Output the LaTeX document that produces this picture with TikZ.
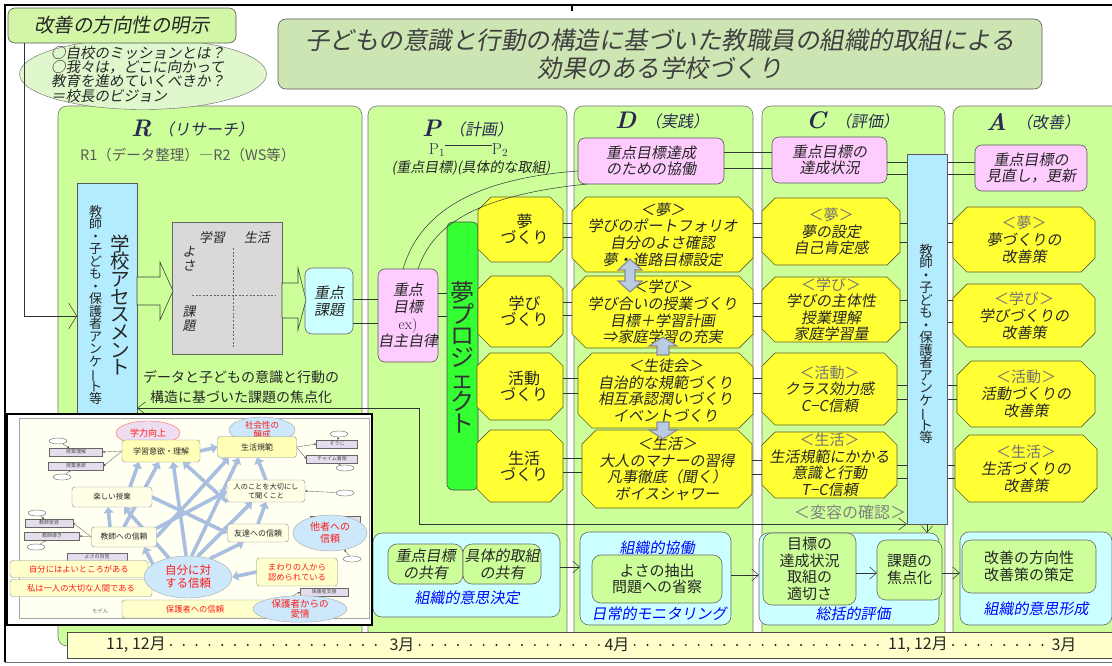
\documentclass[tikz,border=0pt]{standalone}
\usepackage{fontspec}
\usepackage{graphicx}
\usetikzlibrary{arrows.meta,shapes.geometric,calc}
\newfontfamily\jp{Noto Sans CJK JP}
\newfontfamily\jpi{Noto Sans CJK JP}[FakeSlant=0.18]
\newcommand\fsz[2]{\fontsize{#1}{#2}\selectfont\lineskiplimit=-40pt\relax}
\newcommand\vlong{\rotatebox[origin=c]{90}{ー}}
\definecolor{panelg}{HTML}{CCFF99}
\definecolor{pinkc}{HTML}{FFCCFF}
\definecolor{yelc}{HTML}{FFFF33}
\definecolor{olivec}{HTML}{5E5E2A}
\definecolor{cyanc}{HTML}{B3ECFF}
\definecolor{cyanl}{HTML}{CCFFFF}
\definecolor{greenc}{HTML}{33FF33}
\definecolor{gridc}{HTML}{D9D9D9}
\definecolor{titlec}{HTML}{CDE5B3}
\definecolor{kzc}{HTML}{D3F5A6}
\definecolor{visc}{HTML}{E0F6CC}
\definecolor{txt}{HTML}{262626}
\definecolor{hdr}{HTML}{2A2A50}
\definecolor{bluet}{HTML}{0000FF}
\definecolor{tlc}{HTML}{FFFFCC}
\definecolor{creamc}{HTML}{FFFFF2}
\definecolor{fatc}{HTML}{A9BFE0}
\definecolor{redt}{HTML}{FF1A1A}
\definecolor{lavc}{HTML}{E4DDEE}
\definecolor{ltblue}{HTML}{CCE8FA}
\definecolor{insy}{HTML}{FFFFB8}
\definecolor{insw}{HTML}{FFFFE6}
\definecolor{barc}{HTML}{B8CCE4}
\definecolor{pinkell}{HTML}{EEDDF0}
\pgfdeclarelayer{base}
\pgfdeclarelayer{ins}
\pgfsetlayers{base,ins,main}
\tikzset{
 panel/.style={fill=panelg, draw=black!55, rounded corners=9pt, line width=0.6pt},
 pinkbox/.style={fill=pinkc, draw=black!65, rounded corners=7pt, line width=0.6pt, align=center, inner sep=0pt, outer sep=0pt, font=\jpi\fsz{15}{16.5}, text=txt, anchor=north west},
 cyanbox/.style={fill=cyanc, draw=black!65, line width=0.6pt, inner sep=0pt, outer sep=0pt, anchor=north west},
 octo/.style={fill=yelc, draw=olivec, line width=0.7pt},
 octtext/.style={align=center, inner sep=0pt, outer sep=0pt, text=txt},
 link/.style={draw=black!80, line width=0.5pt},
 barb/.style={-{Straight Barb[length=7pt,width=12pt]}},
 hdrL/.style={font=\fsz{24}{24}\bfseries\itshape, text=hdr, inner sep=0pt, anchor=west},
 hdrJ/.style={font=\jpi\fsz{16}{16}, text=hdr, inner sep=0pt, anchor=west},
 vtext/.style={align=center, inner sep=0pt, text=txt},
 bbox/.style={fill=cyanl, draw=black!60, rounded corners=9pt, line width=0.6pt, inner sep=0pt, outer sep=0pt, anchor=north west},
 gbox/.style={fill=panelg, draw=black!60, rounded corners=9pt, line width=0.6pt, inner sep=0pt, outer sep=0pt, anchor=north west, align=center, text=txt, font=\jp\fsz{15}{16.5}},
 bluelbl/.style={font=\jpi\fsz{15}{15}, text=bluet, inner sep=0pt},
 blockarrow/.style={fill=panelg, draw=black!75, line width=0.6pt},
 greyarrow/.style={fill=barc, draw=black!45, line width=1.1pt, line join=miter},
 tlt/.style={font=\jp\fsz{16}{16}, text=txt, inner sep=0pt},
 tdots/.style={draw=txt, line width=2.2pt, line cap=round, dash pattern=on 0pt off 12.8pt},
 sbox/.style={draw=black!60, fill=lavc, inner sep=0pt, outer sep=0pt, minimum height=8, font=\jp\fsz{5}{5}, text=black!70},
 ecirc/.style={ellipse, draw=black!60, fill=white, inner sep=0pt, minimum width=18, minimum height=6},
 lbox/.style={draw=black!45, fill=insy, rounded corners=3pt, inner sep=1pt, outer sep=0pt, align=center, font=\jp\fsz{8}{9.5}, text=black!85},
 rbox/.style={lbox, fill=tlc, text=redt, font=\jp\fsz{8.3}{10}},
 bell/.style={ellipse, draw=black!35, fill=ltblue, inner sep=0pt, align=center, text=redt},
 fat/.style={draw=fatc, line width=3.6pt, -{Triangle[length=6pt,width=10pt]}},
 thinl/.style={draw=black!70, line width=0.3pt, -{Stealth[length=2.5pt,width=2pt]}},
}
% octagon node: name, x1, y1, x2, y2, chamfer, font, text
\newcommand\octnode[8]{%
 \filldraw[octo] (#2+#6,#3) -- (#4-#6,#3) -- (#4,#3+#6) -- (#4,#5-#6) -- (#4-#6,#5) -- (#2+#6,#5) -- (#2,#5-#6) -- (#2,#3+#6) -- cycle;
 \node[octtext, font=#7, minimum width=#4-#2, minimum height=#5-#3, anchor=north west] (#1) at (#2,#3) {#8};}
\newcommand\hlink[3]{\coordinate (hlA) at (0,#3); \draw[link] (#1.east |- hlA) -- (#2.west |- hlA);}
\begin{document}
\begin{tikzpicture}[x=1pt,y=-1pt]
\useasboundingbox (0,0) rectangle (1112,665);
\begin{pgfonlayer}{base}
\fill[white] (0,0) rectangle (1112,665);
% panels
\draw[panel] (58,106) rectangle (362,646);
\draw[panel] (368,106) rectangle (567,646);
\draw[panel] (574,106) rectangle (753,646);
\draw[panel] (762,106) rectangle (945,646);
\draw[panel] (953,106) rectangle (1124,646);
% frame
\draw[line width=1.1pt] (5,662) -- (5,5) -- (1112,5);
\draw[line width=0.8pt, black!55] (5,662) -- (1112,662);
\draw[line width=1.1pt] (572,5) -- (572,11);
% vision
\node[ellipse, draw=black!60, fill=visc, minimum width=247, minimum height=71, inner sep=0pt] (vision) at (143,74) {};
\node[anchor=north west, align=left, font=\jpi\fsz{14.5}{14.2}, text=txt, inner sep=0pt] (visiontxt) at (51,46) {○自校のミッションとは？\\○我々は，どこに向かって\\教育を進めていくべきか？\\＝校長のビジョン};
\node[fill=kzc, draw=black!65, rounded corners=7pt, line width=0.6pt, minimum width=228, minimum height=35, inner sep=0pt, font=\jpi\fsz{19.5}{20}, text=txt] (kz) at (122,25.5) {改善の方向性の明示};
% title
\node[fill=titlec, draw=black!65, rounded corners=8pt, line width=0.6pt, minimum width=764, minimum height=70, inner sep=0pt, align=center, font=\jpi\fsz{24.5}{27.5}, text=black!75] (title) at (660,54) {子どもの意識と行動の構造に基づいた教職員の組織的取組による\\効果のある学校づくり};
% ---------- R column
\node[hdrL] (Rl) at (131,128) {R};
\node[hdrJ] (Rj) at (158,129) {（リサーチ）};
\node[anchor=west, font=\jp\fsz{14.5}{14.5}, text=black!65, inner sep=0pt] (R12) at (80,155) {R1（データ整理）―R2（WS等）};
\node[cyanbox, minimum width=60, minimum height=245] (assess) at (77,183) {};
\node[vtext, font=\jp\fsz{13}{12.5}] (assessL) at (95.5,305) {教\\師\\・\\子\\ど\\も\\・\\保\\護\\者\\ア\\ン\\ケ\\\vlong\\ト\\等};
\node[vtext, font=\jp\fsz{19.5}{17.7}] (assessR) at (120,305) {学\\校\\ア\\セ\\ス\\メ\\ン\\ト};
\node[draw=black!60, fill=gridc, minimum width=110, minimum height=132, inner sep=0pt, outer sep=0pt, anchor=north west] (grid) at (172,222) {};
\node[font=\jpi\fsz{13}{13}, text=txt, inner sep=0pt] (gl1) at (212,238) {学習};
\node[font=\jpi\fsz{13}{13}, text=txt, inner sep=0pt] (gl2) at (257,238) {生活};
\node[font=\jpi\fsz{13}{14}, text=txt, inner sep=0pt, align=center] (gl3) at (189,259) {よ\\さ};
\node[font=\jpi\fsz{13}{14}, text=txt, inner sep=0pt, align=center] (gl4) at (189,319) {課\\題};
\draw[black!60, line width=0.6pt, dash pattern=on 2pt off 1.6pt] (233,248) -- (233,347);
\draw[black!60, line width=0.6pt, dash pattern=on 2pt off 1.6pt] (192,295) -- (275,295);
\filldraw[blockarrow] (137,277) -- (160,277) -- (160,262) -- (173,291) -- (160,320) -- (160,305) -- (137,305) -- cycle;
\node[fill=cyanl, draw=black!60, rounded corners=7pt, line width=0.6pt, minimum width=48, minimum height=66, inner sep=0pt, outer sep=0pt, anchor=north west, align=center, font=\jpi\fsz{15}{17}, text=txt] (jk) at (305,268) {重点\\課題};
\filldraw[blockarrow] (282,283) -- (298,283) -- (298,268) -- (306,300) -- (298,330) -- (298,318) -- (282,318) -- cycle;
\node[font=\jp\fsz{14}{19.5}, align=center, text=txt, inner sep=0pt] (focus) at (241,387) {データと子どもの意識と行動の\\構造に基づいた課題の焦点化};
\coordinate (lcorner) at (24,316);
\draw[link, -{Straight Barb[length=8pt,width=26pt]}] (kz.south -| lcorner) -- (lcorner) -- (assess.west |- lcorner);
% ---------- P column
\node[hdrL] (Pl) at (422,128) {P};
\node[hdrJ] (Pj) at (449,129) {（計画）};
\node[font=\fsz{16}{16}, text=hdr, inner sep=0pt] (p1) at (437,150) {P$_1$};
\node[font=\fsz{16}{16}, text=hdr, inner sep=0pt] (p2) at (500,150) {P$_2$};
\draw[link] ([yshift=5pt]p1.east) -- ([yshift=5pt]p2.west);
\node[font=\jpi\fsz{14}{14}, text=txt, inner sep=0pt] (pdesc) at (471,168) {(重点目標)(具体的な取組)};
\node[pinkbox, minimum width=60, minimum height=93, font=\jpi\fsz{15}{17}] (gP) at (378,269) {重点\\目標\\{\rmfamily ex)}\\自主自律};
\node[draw=black!70, fill=greenc, rounded corners=6pt, line width=0.6pt, minimum width=31, minimum height=268, inner sep=0pt, outer sep=0pt, anchor=north west] (yume) at (447,222) {};
\node[vtext, font=\jp\fsz{24}{21.8}, text=black!80] (yumet) at (462.5,357) {夢\\プ\\ロ\\ジ\\ェ\\ク\\ト};
\octnode{pY}{478}{197}{563}{262}{13}{\jp\fsz{16}{16}}{\hspace*{8pt}夢\\\hspace*{8pt}づくり}
\octnode{pM}{478}{276}{563}{347}{13}{\jp\fsz{16}{16}}{\hspace*{8pt}学び\\\hspace*{8pt}づくり}
\octnode{pK}{477}{353}{563}{420}{13}{\jp\fsz{16}{16}}{\hspace*{8pt}活動\\\hspace*{8pt}づくり}
\octnode{pS}{477}{430}{563}{502}{13}{\jp\fsz{16}{16}}{\hspace*{8pt}生活\\\hspace*{8pt}づくり}
\hlink{jk}{gP}{299}
\hlink{jk}{gP}{323}
\hlink{gP}{yume}{293}
\hlink{gP}{yume}{316}
% ---------- D column
\node[hdrL] (Dl) at (615,120) {D};
\node[hdrJ] (Dj) at (645,121) {（実践）};
\node[pinkbox, minimum width=146, minimum height=46] (gD) at (578,138) {重点目標達成\\のための協働};
\coordinate (cv1) at (0,171);
\draw[link] ([xshift=-5pt]gP.north) .. controls (416,225) and (455,180) .. (gD.west |- cv1);
\draw[link] ([xshift=10pt]gP.north) .. controls (432,228) and (470,196) .. ([xshift=9pt]gD.south west);
\octnode{dY}{572}{197}{753}{272}{14}{\jpi\fsz{15}{16.6}}{＜夢＞\\学びのポートフォリオ\\自分のよさ確認\\夢・進路目標設定}
\octnode{dM}{572}{276}{753}{348}{14}{\jpi\fsz{15}{16.6}}{＜学び＞\\学び合いの授業づくり\\目標＋学習計画\\⇒家庭学習の充実}
\octnode{dK}{578}{353}{753}{428}{14}{\jpi\fsz{15}{16.6}}{＜生徒会＞\\自治的な規範づくり\\相互承認潤いづくり\\イベントづくり}
\octnode{dS}{582}{430}{752}{508}{14}{\jpi\fsz{15}{16.6}}{＜生活＞\\大人のマナーの習得\\凡事徹底（聞く）\\ボイスシャワー}
\filldraw[greyarrow] (630,259) -- (642,270) -- (635,270) -- (635,281) -- (642,281) -- (630,292) -- (618,281) -- (625,281) -- (625,270) -- (618,270) -- cycle;
\filldraw[greyarrow] (663,337) -- (677,346) -- (669,346) -- (669,355) -- (657,355) -- (657,346) -- (649,346) -- cycle;
\filldraw[greyarrow] (663,439) -- (677,430) -- (669,430) -- (669,422) -- (657,422) -- (657,430) -- (649,430) -- cycle;
\hlink{pY}{dY}{223}
\hlink{pY}{dY}{237}
\hlink{pM}{dM}{302}
\hlink{pM}{dM}{315}
\hlink{pK}{dK}{378}
\hlink{pK}{dK}{393}
\hlink{pS}{dS}{458}
\hlink{pS}{dS}{472}
% ---------- C column
\node[hdrL] (Cl) at (806,120) {C};
\node[hdrJ] (Cj) at (835,121) {（評価）};
\node[pinkbox, minimum width=115, minimum height=46] (gC) at (772,137) {重点目標の\\達成状況};
\octnode{cY}{762}{198}{900}{265}{13}{\jpi\fsz{15}{16.5}}{{\jp\color{black!55}＜夢＞}\\夢の設定\\自己肯定感}
\octnode{cM}{762}{277}{900}{342}{13}{\jpi\fsz{15}{16.5}}{{\jp\color{black!55}＜学び＞}\\学びの主体性\\授業理解\\家庭学習量}
\octnode{cK}{762}{353}{897}{425}{13}{\jpi\fsz{15}{16.5}}{{\jp\color{black!55}＜活動＞}\\クラス効力感\\C−C信頼}
\octnode{cS}{762}{432}{897}{498}{13}{\jpi\fsz{15}{16.5}}{{\jp\color{black!55}＜生活＞}\\生活規範にかかる\\意識と行動\\T−C信頼}
\hlink{gD}{gC}{152}
\hlink{gD}{gC}{168}
\hlink{dY}{cY}{223}
\hlink{dY}{cY}{237}
\hlink{dM}{cM}{303}
\hlink{dM}{cM}{316}
\hlink{dK}{cK}{378}
\hlink{dK}{cK}{393}
\hlink{dS}{cS}{460}
\hlink{dS}{cS}{474}
% ---------- A column
\node[hdrL] (Al) at (986,122) {A};
\node[hdrJ] (Aj) at (1016,122) {（改善）};
\node[pinkbox, minimum width=112, minimum height=46] (gA) at (975,145) {重点目標の\\見直し，更新};
\octnode{aY}{953}{207}{1095}{272}{14}{\jpi\fsz{15}{17}}{{\jp\color{black!55}＜夢＞}\\夢づくりの\\改善策}
\octnode{aM}{953}{284}{1095}{347}{14}{\jpi\fsz{15}{17}}{{\jp\color{black!55}＜学び＞}\\学びづくりの\\改善策}
\octnode{aK}{957}{361}{1095}{427}{14}{\jpi\fsz{15}{17}}{{\jp\color{black!55}＜活動＞}\\活動づくりの\\改善策}
\octnode{aS}{955}{435}{1097}{502}{14}{\jpi\fsz{15}{17}}{{\jp\color{black!55}＜生活＞}\\生活づくりの\\改善策}
\hlink{gC}{gA}{162}
\hlink{gC}{gA}{174}
\hlink{cY}{aY}{223}
\hlink{cY}{aY}{242}
\hlink{cM}{aM}{300}
\hlink{cM}{aM}{322}
\hlink{cK}{aK}{385}
\hlink{cK}{aK}{399}
\hlink{cS}{aS}{465}
\hlink{cS}{aS}{478}
\node[font=\jp\fsz{16}{16}, text=black!50, inner sep=0pt] (henyo) at (850,512) {＜変容の確認＞};
\node[cyanbox, minimum width=40, minimum height=370] (cq) at (907,154) {};
\node[vtext, font=\jp\fsz{13.5}{12.5}] (cqt) at (926,344) {教\\師\\・\\子\\ど\\も\\・\\保\\護\\者\\ア\\ン\\ケ\\\vlong\\ト\\等};
% feedback line
\coordinate (fb1) at (419,408);
\coordinate (fb2) at (419,524);
\draw[link, {Straight Barb[length=8pt,width=12pt]}-{Straight Barb[length=8pt,width=12pt]}] (assess.east |- fb1) -- (fb1) -- (fb2) -- (cq.west |- fb2);
% ---------- bottom row
\node[bbox, minimum width=187, minimum height=84] (bR) at (373,533) {};
\node[gbox, font=\jpi\fsz{15}{17}, minimum width=75, minimum height=40] (b1a) at (388,544) {重点目標\\の共有};
\node[gbox, font=\jpi\fsz{15}{17}, minimum width=78, minimum height=40] (b1b) at (463,544) {具体的取組\\の共有};
\node[bluelbl] (b1l) at (467,598) {組織的意思決定};
\node[bbox, minimum width=151, minimum height=93] (bD) at (580,532) {};
\node[bluelbl] (b2t) at (657,548) {組織的協働};
\node[gbox, minimum width=130, minimum height=48] (b2a) at (592,555) {よさの抽出\\問題への省察};
\node[bluelbl] (b2l) at (659,614) {日常的モニタリング};
\node[bbox, minimum width=180, minimum height=92] (bC) at (759,533) {};
\node[gbox, minimum width=93, minimum height=72] (b3a) at (763,533) {目標の\\達成状況\\取組の\\適切さ};
\node[gbox, font=\jp\fsz{15}{17}, minimum width=65, minimum height=60] (b3b) at (877,540) {課題の\\焦点化};
\node[bluelbl] (b3l) at (853,614) {総括的評価};
\node[bbox, minimum width=152, minimum height=93] (bA) at (960,532) {};
\node[gbox, font=\jp\fsz{15}{17}, minimum width=134, minimum height=53] (b4a) at (962,540) {改善の方向性\\改善策の策定};
\node[bluelbl] (b4l) at (1036,609) {組織的意思形成};
\coordinate (by1) at (0,567);
\coordinate (by2) at (0,575);
\coordinate (by3) at (0,573);
\draw[link, barb] (bR.east |- by1) -- (bD.west |- by1);
\draw[link, barb] (bD.east |- by2) -- (bC.west |- by2);
\draw[link, barb] (b3a.east |- by3) -- (b3b.west |- by3);
\draw[link, barb] (b3b.east |- by3) -- (bA.west |- by3);
\draw[link, -{Straight Barb[length=7pt,width=11pt]}] (cq.south) -- (cq.south |- bC.north);
% ---------- timeline
\node[draw=black!70, fill=tlc, minimum width=1060, minimum height=26, inner sep=0pt, outer sep=0pt, anchor=north west, line width=0.7pt] (tl) at (67,632) {};
\node[tlt] (t1) at (136,645) {11, 12月};
\node[tlt] (t2) at (402,645) {3月};
\node[tlt] (t3) at (617,645) {4月};
\node[tlt] (t4) at (918,645) {11, 12月};
\node[tlt] (t5) at (1064,645) {3月};
\draw[tdots] ([xshift=5pt]t1.east) -- ([xshift=-4pt]t2.west);
\draw[tdots] ([xshift=5pt]t2.east) -- ([xshift=-4pt]t3.west);
\draw[tdots] ([xshift=5pt]t3.east) -- ([xshift=-4pt]t4.west);
\draw[tdots] ([xshift=5pt]t4.east) -- ([xshift=-4pt]t5.west);
% ---------- inset frame
\node[draw=black, line width=1.3pt, fill=white, minimum width=365, minimum height=211, inner sep=0pt, outer sep=0pt, anchor=north west] (inset) at (7,414) {};
\node[draw=black!35, fill=creamc, minimum width=350, minimum height=200, inner sep=0pt, outer sep=0pt, anchor=north west] (insbg) at (19,418) {};
\end{pgfonlayer}
% ---------- inset content
\node[sbox, minimum width=53] (m1) at (76,452) {授業理解};
\node[sbox, minimum width=55] (m2) at (76,466) {授業意欲};
\node[sbox, minimum width=41] (m3) at (337,444) {そうじ};
\node[sbox, minimum width=51] (m4) at (332,459) {チャイム着席};
\node[sbox, minimum width=48] (m5) at (49,523) {教師受容};
\node[sbox, minimum width=55] (m6) at (52,536) {教師導き};
\node[sbox, minimum width=60] (m7) at (97,557) {よさの自覚};
\node[sbox, minimum width=48] (m8) at (324,592) {保護者支援};
\node[sbox, minimum width=50] (m9) at (335,520) {};
\node[ecirc] (e1) at (58,441) {};
\node[ecirc] (e2) at (62,477) {};
\node[ecirc] (e3) at (339,434) {};
\node[ecirc] (e4) at (345,468) {};
\node[ecirc] (e5) at (37,513) {};
\node[ecirc] (e6) at (36,547) {};
\node[ecirc] (e7) at (345,493) {};
\node[ecirc] (e8) at (352,559) {};
\node[font=\jp\fsz{5.5}{6}, text=black!50, inner sep=0pt] (model) at (100,611) {モデル};
\node[bell, draw=red!60, fill=pinkell, minimum width=64, minimum height=24, font=\jp\fsz{9}{10}] (gakuryoku) at (148,433) {学力向上};
\node[bell, minimum width=66, minimum height=26, font=\jp\fsz{8.5}{9.5}] (shakai) at (262,430) {社会性の\\醸成};
\node[lbox, minimum width=78, minimum height=22] (gakushu) at (161,451) {学習意欲・理解};
\node[lbox, minimum width=79, minimum height=21] (seikatsu) at (257,447) {生活規範};
\node[lbox, fill=insw, minimum width=80, minimum height=20, font=\jp\fsz{7.5}{9}] (tanoshii) at (112,497) {楽しい授業};
\node[lbox, fill=insw, minimum width=78, minimum height=22, font=\jp\fsz{7.2}{9}] (hito) at (266,491) {人のことを大切にし\\て聞くこと};
\node[lbox, fill=insw, minimum width=65, minimum height=20, font=\jp\fsz{7.8}{9}] (kyoushin) at (124,537) {教師への信頼};
\node[lbox, fill=insw, minimum width=61, minimum height=18, font=\jp\fsz{8}{9}] (tomo) at (258,533) {友達への信頼};
\node[bell, minimum width=74, minimum height=36, font=\jp\fsz{10}{12}] (tasha) at (330,533) {他者への\\信頼};
\node[rbox, minimum width=138, minimum height=17] (jibunyoi) at (79,569) {自分にはよいところがある};
\node[rbox, minimum width=142, minimum height=17] (watashi) at (81,588) {私は一人の大切な人間である};
\node[rbox, minimum width=81, minimum height=28] (mawari) at (297,572) {まわりの人から\\認められている};
\node[rbox, minimum width=146, minimum height=18] (hogoshin) at (195,609) {保護者への信頼};
\node[bell, minimum width=88, minimum height=42, font=\jp\fsz{11.5}{13}] (jibun) at (188,577) {自分に対\\する信頼};
\node[bell, minimum width=94, minimum height=22, font=\jp\fsz{9.5}{10}] (aijou) at (300,609) {保護者からの\\愛情};
\begin{pgfonlayer}{ins}
\draw[thinl] (gakushu.west) -- (m1.east);
\draw[thinl] (gakushu.west) -- (m2.east);
\draw[thinl] (seikatsu.east) -- (m3.west);
\draw[thinl] (seikatsu.east) -- (m4.west);
\draw[thinl] (kyoushin.west) -- (m5.east);
\draw[thinl] (kyoushin.west) -- (m6.east);
\draw[thinl] (e1) -- (m1);
\draw[thinl] (e2) -- (m2);
\draw[thinl] (e3) -- (m3);
\draw[thinl] (e4) -- (m4);
\draw[thinl] (e5) -- (m5);
\draw[thinl] (e6) -- (m6);
\draw[thinl] (e7) -- (hito.east);
\draw[thinl] (e8) -- (tasha);
\draw[thinl] (hogoshin.east) -- (m8.west);
\draw[fat] (jibun.95) -- ([xshift=12pt]gakushu.south);
\draw[fat] (jibun.135) -- ([xshift=12pt]tanoshii.south);
\draw[fat] (jibun.160) -- ([xshift=20pt]kyoushin.south);
\draw[fat] (jibun.65) -- ([xshift=-14pt]hito.south);
\draw[fat] (jibun.80) -- ([xshift=-18pt]seikatsu.south);
\draw[fat] (jibun.40) -- ([xshift=-14pt]tomo.south);
\draw[fat] (kyoushin.north) -- ([xshift=-2pt]gakushu.south);
\draw[fat] ([xshift=-14pt]kyoushin.north) -- ([xshift=-4pt]tanoshii.south);
\draw[fat] ([xshift=18pt]tanoshii.north) -- ([xshift=-22pt]gakushu.south);
\draw[fat] (kyoushin.east) -- ([xshift=-28pt]seikatsu.south);
\draw[fat] (kyoushin.15) -- (hito.west);
\draw[fat] (tomo.north) -- (hito.south);
\draw[fat] (hito.north) -- (seikatsu.south);
\draw[fat] (gakushu.east) -- (seikatsu.west);
\draw[fat] (mawari.west) -- (jibun.east);
\draw[fat] (tanoshii.east) -- (tomo.west);
\draw[fat] (hito.south west) -- ([xshift=22pt]gakushu.south);
\end{pgfonlayer}
\end{tikzpicture}
\end{document}
